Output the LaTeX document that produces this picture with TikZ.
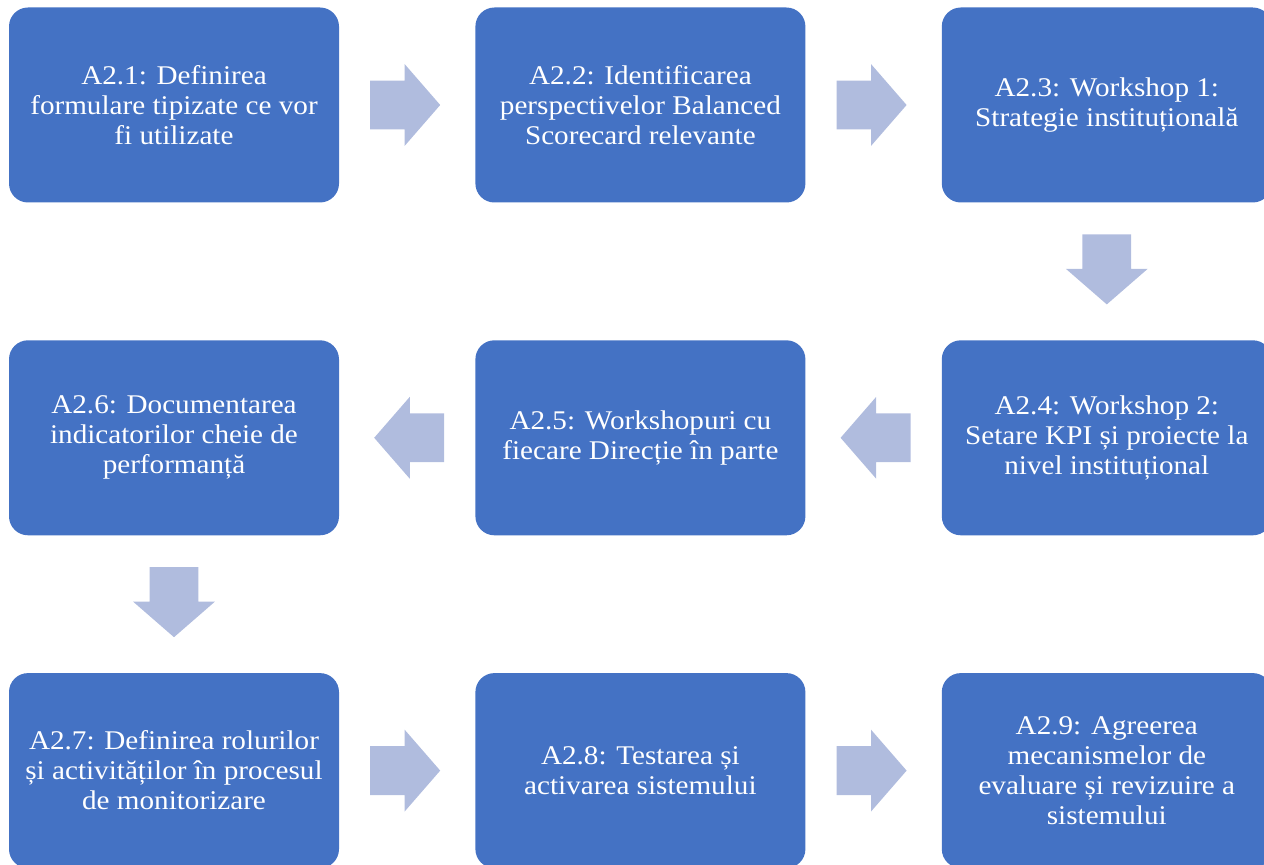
\documentclass[tikz,border=0pt]{standalone}
\usepackage{fontspec}
\setmainfont[FakeStretch=1.08]{Liberation Serif}
\usetikzlibrary{positioning,calc,shapes.arrows}
\definecolor{stepblue}{RGB}{68,114,196}
\definecolor{flowarr}{RGB}{176,188,222}
\tikzset{
  act/.style={fill=stepblue,rounded corners=9.5pt,minimum width=165pt,minimum height=97.5pt,
    inner sep=4pt,font=\fontsize{13.5}{15}\selectfont,text=white,align=center},
  flow/.style={single arrow,fill=flowarr,draw=none,inner xsep=0pt,inner ysep=12pt,outer sep=0pt,
    minimum height=35pt,minimum width=40.5pt,single arrow head extend=8.25pt,
    single arrow tip angle=98,anchor=tail},
}

\begin{document}
\begin{tikzpicture}[x=0.5pt,y=-0.5pt,node distance=68.5pt and 67.8pt]
\useasboundingbox (0,0) rectangle (1264,865);
% row 1
\node[act] (a21) at (174,105) {A2.1: Definirea\\formulare tipizate ce vor\\fi utilizate};
\node[act,right=of a21] (a22) {A2.2: Identificarea\\perspectivelor Balanced\\Scorecard relevante};
\node[act,right=of a22] (a23) {A2.3: Workshop 1:\\Strategie instituțională};

% row 2 (right to left)
\node[act,below=of a23] (a24) {A2.4: Workshop 2:\\Setare KPI și proiecte la\\nivel instituțional};
\node[act,left=of a24] (a25) {A2.5: Workshopuri cu\\fiecare Direcție în parte};
\node[act,left=of a25] (a26) {A2.6: Documentarea\\indicatorilor cheie de\\performanță};

% row 3
\node[act,below=of a26] (a27) {A2.7: Definirea rolurilor\\și activităților în procesul\\de monitorizare};
\node[act,right=of a27] (a28) {A2.8: Testarea și\\activarea sistemului};
\node[act,right=of a28] (a29) {A2.9: Agreerea\\mecanismelor de\\evaluare și revizuire a\\sistemului};

% block arrows (tail placed half a length before the gap's middle)
\node[flow] (f12) at ($(a21.east)!0.5!(a22.west)+(-37,0)$) {};
\node[flow] (f23) at ($(a22.east)!0.5!(a23.west)+(-37,0)$) {};
\node[flow,rotate=-90] (f34) at ($(a23.south)!0.5!(a24.north)+(0,-37)$) {};
\node[flow,rotate=180] (f45) at ($(a24.west)!0.5!(a25.east)+(37,0)$) {};
\node[flow,rotate=180] (f56) at ($(a25.west)!0.5!(a26.east)+(37,0)$) {};
\node[flow,rotate=-90] (f67) at ($(a26.south)!0.5!(a27.north)+(0,-37)$) {};
\node[flow] (f78) at ($(a27.east)!0.5!(a28.west)+(-37,0)$) {};
\node[flow] (f89) at ($(a28.east)!0.5!(a29.west)+(-37,0)$) {};
\end{tikzpicture}
\end{document}
